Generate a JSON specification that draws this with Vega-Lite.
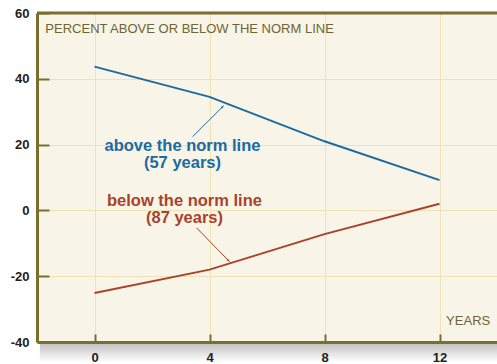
{
  "$schema": "https://vega.github.io/schema/vega-lite/v6.json",
  "width": 460,
  "height": 329,
  "autosize": {"type": "none"},
  "padding": {"left": 37, "top": 13, "right": 0, "bottom": 22},
  "background": "white",
  "config": {"view": {"fill": "#f8f4e7", "stroke": null}, "font": "Liberation Sans"},
  "datasets": {
    "series": [
      {"series": "above", "year": 0, "pct": 43.7},
      {"series": "above", "year": 4, "pct": 34.5},
      {"series": "above", "year": 8, "pct": 21.0},
      {"series": "above", "year": 12, "pct": 9.2},
      {"series": "below", "year": 0, "pct": -25.1},
      {"series": "below", "year": 4, "pct": -18.0},
      {"series": "below", "year": 8, "pct": -7.2},
      {"series": "below", "year": 12, "pct": 2.0}
    ],
    "labels": [
      {"series": "above", "x": 3.06, "y": 18.1, "text": "above the norm line"},
      {"series": "above", "x": 3.06, "y": 13.0, "text": "(57 years)"},
      {"series": "below", "x": 3.13, "y": 1.2, "text": "below the norm line"},
      {"series": "below", "x": 3.13, "y": -3.8, "text": "(87 years)"}
    ],
    "arrows": [
      {"series": "above", "x": 3.41, "y": 22.4, "x2": 4.49, "y2": 31.8},
      {"series": "below", "x": 3.55, "y": -5.3, "x2": 4.70, "y2": -15.6}
    ],
    "notes": [
      {"x": -1.71, "y": 53.9, "text": "PERCENT ABOVE OR BELOW THE NORM LINE"},
      {"x": 12.23, "y": -34.7, "text": "YEARS"}
    ]
  },
  "resolve": {"axis": {"x": "independent"}},
  "layer": [
    {
      "data": {"values": [{}]},
      "mark": {
        "type": "rect",
        "clip": false,
        "fill": {
          "gradient": "linear", "x1": 0, "y1": 0, "x2": 0, "y2": 1,
          "stops": [{"offset": 0, "color": "#bcbcbc"}, {"offset": 1, "color": "#ffffff"}]
        }
      },
      "encoding": {
        "x": {
          "datum": -1.9, "type": "quantitative",
          "scale": {"domain": [-2, 14], "nice": false, "zero": false},
          "axis": {
            "orient": "bottom", "values": [0, 4, 8, 12], "grid": false,
            "domainColor": "#7b6f2f", "domainWidth": 3,
            "tickColor": "#7b6f2f", "tickWidth": 2, "tickSize": -8,
            "labelPadding": 17, "labelFont": "Liberation Sans", "labelFontWeight": "bold",
            "labelFontSize": 13, "labelColor": "#222222", "title": null, "zindex": 1,
            "labelExpr": "'' + datum.value"
          }
        },
        "x2": {"datum": 14},
        "y": {
          "datum": -40, "type": "quantitative",
          "scale": {"domain": [-40, 60], "nice": false, "zero": false},
          "axis": {
            "values": [-40, -20, 0, 20, 40, 60], "grid": true, "gridColor": "#efe3b6",
            "domainColor": "#7b6f2f", "domainWidth": 3,
            "tickColor": "#7b6f2f", "tickWidth": 2, "tickSize": -12,
            "labelPadding": 20, "labelFont": "Liberation Sans", "labelFontWeight": "bold",
            "labelFontSize": 13, "labelColor": "#222222", "title": null,
            "labelExpr": "'' + datum.value"
          }
        },
        "y2": {"datum": -46}
      }
    },
    {
      "data": {"name": "series"},
      "mark": {"type": "line", "strokeWidth": 2},
      "encoding": {
        "x": {
          "field": "year", "type": "quantitative",
          "axis": {
            "orient": "bottom", "values": [0, 4, 8, 12], "grid": true, "gridColor": "#efe3b6",
            "domain": false, "ticks": false, "labels": false, "title": null, "zindex": 0
          }
        },
        "y": {"field": "pct", "type": "quantitative"},
        "color": {
          "field": "series", "type": "nominal",
          "scale": {"domain": ["above", "below"], "range": ["#1b6aa0", "#a8432b"]},
          "legend": null
        }
      }
    },
    {
      "data": {"values": [{}]},
      "mark": {"type": "rule", "strokeWidth": 3, "color": "#7b6f2f"},
      "encoding": {"y": {"datum": 60, "type": "quantitative"}}
    },
    {
      "data": {"name": "arrows"},
      "mark": {"type": "rule", "strokeWidth": 1},
      "encoding": {
        "x": {"field": "x", "type": "quantitative", "axis": null},
        "y": {"field": "y", "type": "quantitative"},
        "x2": {"field": "x2"},
        "y2": {"field": "y2"},
        "color": {"field": "series", "type": "nominal", "legend": null}
      }
    },
    {
      "data": {"name": "arrows"},
      "mark": {"type": "point", "filled": true, "opacity": 1, "shape": "M0,0L-0.36,1L0.36,1Z", "size": 40},
      "encoding": {
        "x": {"field": "x2", "type": "quantitative", "axis": null},
        "y": {"field": "y2", "type": "quantitative"},
        "angle": {"field": "series", "type": "nominal", "scale": {"domain": ["above", "below"], "range": [43, 136]}},
        "color": {"field": "series", "type": "nominal", "legend": null}
      }
    },
    {
      "data": {"name": "labels"},
      "mark": {"type": "text", "font": "Liberation Sans", "fontWeight": "bold", "fontSize": 16.5, "align": "center", "baseline": "alphabetic"},
      "encoding": {
        "x": {"field": "x", "type": "quantitative", "axis": null},
        "y": {"field": "y", "type": "quantitative"},
        "text": {"field": "text"},
        "color": {"field": "series", "type": "nominal", "legend": null}
      }
    },
    {
      "data": {"name": "notes"},
      "mark": {"type": "text", "font": "Liberation Sans", "fontSize": 13, "align": "left", "baseline": "alphabetic", "color": "#6e6535"},
      "encoding": {
        "x": {"field": "x", "type": "quantitative", "axis": null},
        "y": {"field": "y", "type": "quantitative"},
        "text": {"field": "text"}
      }
    }
  ]
}
